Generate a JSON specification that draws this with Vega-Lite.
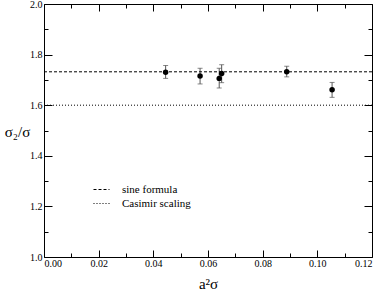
{
  "$schema": "https://vega.github.io/schema/vega-lite/v6.json",
  "width": 328,
  "height": 253,
  "autosize": "none",
  "padding": {"left": 44, "top": 4, "right": 10, "bottom": 39},
  "background": "white",
  "config": {
    "view": {"stroke": null},
    "font": "Liberation Serif",
    "axis": {"grid": false, "domainColor": "#000", "tickColor": "#000", "labelColor": "#000", "titleColor": "#000", "labelFont": "Liberation Serif", "titleFont": "Liberation Serif", "labelFontSize": 10, "titleFontWeight": "normal", "domainWidth": 1, "tickWidth": 1},
    "legend": {"labelFont": "Liberation Serif"}
  },
  "datasets": {
    "pts": [
      {"x": 0.0445, "y": 1.730, "lo": 1.706, "hi": 1.757},
      {"x": 0.0571, "y": 1.715, "lo": 1.684, "hi": 1.746},
      {"x": 0.0641, "y": 1.706, "lo": 1.668, "hi": 1.746},
      {"x": 0.0650, "y": 1.725, "lo": 1.689, "hi": 1.760},
      {"x": 0.0888, "y": 1.732, "lo": 1.712, "hi": 1.754},
      {"x": 0.1054, "y": 1.661, "lo": 1.631, "hi": 1.690}
    ],
    "refs": [
      {"name": "sine formula", "y": 1.732},
      {"name": "Casimir scaling", "y": 1.6}
    ]
  },
  "layer": [
    {
      "data": {"name": "pts"},
      "mark": {"type": "rule", "color": "#555", "strokeWidth": 1},
      "encoding": {
        "x": {"field": "x", "type": "quantitative", "scale": {"domain": [0, 0.12], "nice": false, "zero": false},
          "axis": {"orient": "bottom", "values": [0, 0.02, 0.04, 0.06, 0.08, 0.1, 0.12], "format": ".2f", "tickSize": -7, "labelPadding": 8, "title": "a²σ", "titleFontSize": 15, "titlePadding": 8}},
        "y": {"field": "lo", "type": "quantitative", "scale": {"domain": [1.0, 2.0], "nice": false, "zero": false},
          "axis": {"orient": "left", "values": [1.0, 1.2, 1.4, 1.6, 1.8, 2.0], "format": ".1f", "tickSize": -8, "labelPadding": 10, "title": "σ₂/σ", "titleFontSize": 15, "titleAngle": 0, "titleAlign": "center", "titleBaseline": "middle", "titleX": -27, "titleY": 127}},
        "y2": {"field": "hi"}
      }
    },
    {
      "data": {"name": "pts"},
      "mark": {"type": "tick", "orient": "horizontal", "color": "#555", "size": 5, "thickness": 1},
      "encoding": {
        "x": {"field": "x", "type": "quantitative", "axis": {"orient": "bottom", "values": [0.01, 0.03, 0.05, 0.07, 0.09, 0.11], "tickSize": -4, "labels": false, "domain": false, "title": null}},
        "y": {"field": "lo", "type": "quantitative", "axis": {"orient": "left", "values": [1.1, 1.3, 1.5, 1.7, 1.9], "tickSize": -4, "labels": false, "domain": false, "title": null}}
      }
    },
    {
      "data": {"name": "pts"},
      "mark": {"type": "tick", "orient": "horizontal", "color": "#555", "size": 5, "thickness": 1},
      "encoding": {
        "x": {"field": "x", "type": "quantitative", "axis": {"orient": "top", "values": [0, 0.02, 0.04, 0.06, 0.08, 0.1, 0.12], "tickSize": -7, "labels": false, "title": null}},
        "y": {"field": "hi", "type": "quantitative", "axis": {"orient": "right", "values": [1.0, 1.2, 1.4, 1.6, 1.8, 2.0], "tickSize": -8, "labels": false, "title": null}}
      }
    },
    {
      "data": {"name": "pts"},
      "mark": {"type": "point", "filled": true, "color": "#000", "size": 30, "opacity": 1},
      "encoding": {
        "x": {"field": "x", "type": "quantitative", "axis": {"orient": "top", "values": [0.01, 0.03, 0.05, 0.07, 0.09, 0.11], "tickSize": -4, "labels": false, "domain": false, "title": null}},
        "y": {"field": "y", "type": "quantitative", "axis": {"orient": "right", "values": [1.1, 1.3, 1.5, 1.7, 1.9], "tickSize": -4, "labels": false, "domain": false, "title": null}}
      }
    },
    {
      "data": {"name": "refs"},
      "mark": {"type": "rule", "color": "#000", "strokeWidth": 1},
      "encoding": {
        "y": {"field": "y", "type": "quantitative", "axis": null},
        "strokeDash": {"field": "name", "type": "nominal",
          "scale": {"domain": ["sine formula", "Casimir scaling"], "range": [[3, 2], [1, 2]]},
          "legend": {"orient": "none", "legendX": 49, "legendY": 177, "title": null, "symbolType": "stroke", "symbolSize": 256, "symbolStrokeColor": "#000", "symbolStrokeWidth": 1, "labelFont": "Liberation Serif", "labelFontSize": 11, "labelColor": "#000", "labelOffset": 12, "rowPadding": -1, "padding": 0}}
      }
    }
  ],
  "resolve": {"axis": {"x": "independent", "y": "independent"}}
}
